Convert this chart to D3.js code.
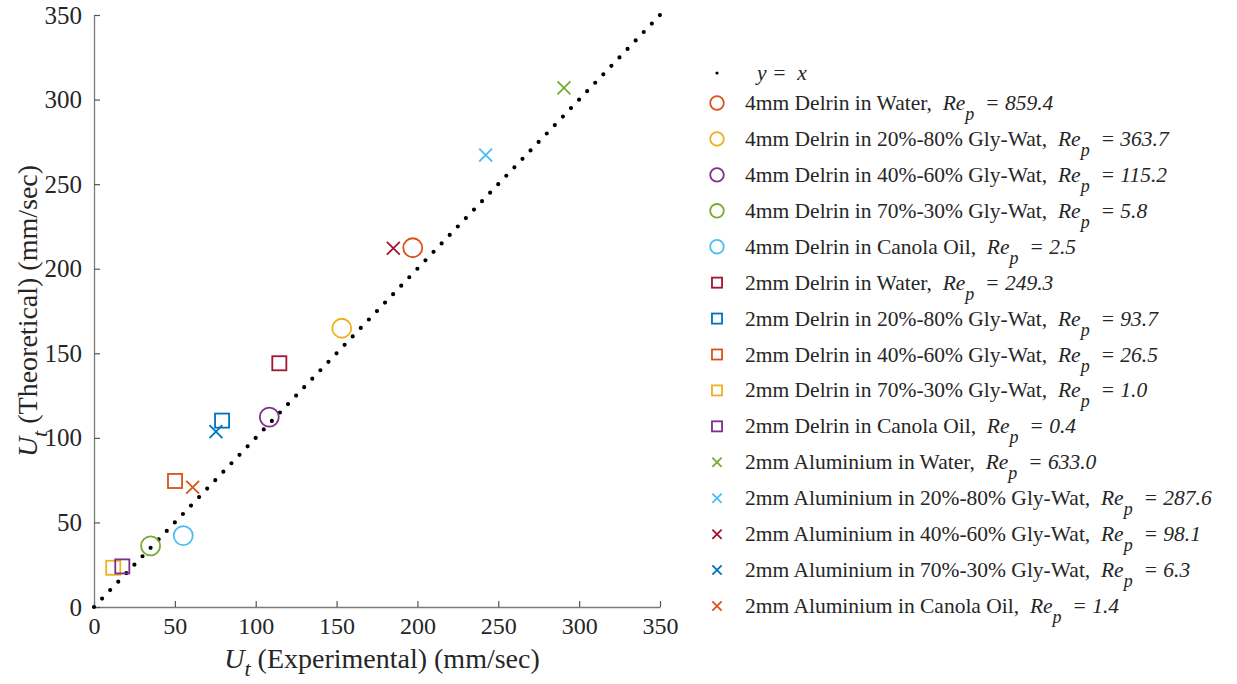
<!DOCTYPE html>
<html>
<head>
<meta charset="utf-8">
<script src="https://cdn.jsdelivr.net/npm/d3@7"></script>
<style>
  body { margin: 0; background: #fff; }
  svg { font-family: "Liberation Serif", "Times New Roman", serif; }
</style>
</head>
<body>
<svg id="chart" width="1237" height="684"></svg>
<script>
// Terminal velocity: theoretical vs experimental

const seriesNames = [
  "4mm Delrin in Water,", "4mm Delrin in 20%-80% Gly-Wat,", "4mm Delrin in 40%-60% Gly-Wat,",
  "4mm Delrin in 70%-30% Gly-Wat,", "4mm Delrin in Canola Oil,",
  "2mm Delrin in Water,", "2mm Delrin in 20%-80% Gly-Wat,", "2mm Delrin in 40%-60% Gly-Wat,",
  "2mm Delrin in 70%-30% Gly-Wat,", "2mm Delrin in Canola Oil,",
  "2mm Aluminium in Water,", "2mm Aluminium in 20%-80% Gly-Wat,", "2mm Aluminium in 40%-60% Gly-Wat,",
  "2mm Aluminium in 70%-30% Gly-Wat,", "2mm Aluminium in Canola Oil,"
];
const reynolds = ["859.4", "363.7", "115.2", "5.8", "2.5",
                  "249.3", "93.7", "26.5", "1.0", "0.4",
                  "633.0", "287.6", "98.1", "6.3", "1.4"];
const markerTypes = ["o", "o", "o", "o", "o", "s", "s", "s", "s", "s", "x", "x", "x", "x", "x"];
const seriesColors = ["#D95319", "#EDB120", "#7E2F8E", "#77AC30", "#4DBEEE",
                      "#A2142F", "#0072BD", "#D95319", "#EDB120", "#7E2F8E",
                      "#77AC30", "#4DBEEE", "#A2142F", "#0072BD", "#D95319"];
const experimental = [197.1, 153.2, 108.4, 35.0, 55.2,
                      114.6, 79.2, 50.1, 11.9, 17.5,
                      290.6, 242.2, 185.1, 75.4, 61.0];
const theoretical = [212.4, 164.8, 112.3, 36.1, 42.2,
                     144.1, 110.2, 74.5, 23.2, 24.0,
                     306.9, 267.2, 212.1, 103.7, 70.8];
const identityLine = [0, 350];
const tickValues = [0, 50, 100, 150, 200, 250, 300, 350];

const svg = d3.select("#chart");

const x = d3.scaleLinear().domain([0, 350]).range([94, 660]);
const y = d3.scaleLinear().domain([0, 350]).range([607, 15]);

// axes (ticks inside, MATLAB style)
const xAxis = svg.append("g")
  .attr("transform", `translate(0,${y(0)})`)
  .call(d3.axisBottom(x).tickValues(tickValues).tickSizeInner(-6).tickSizeOuter(0).tickPadding(9));
const yAxis = svg.append("g")
  .attr("transform", `translate(${x(0)},0)`)
  .call(d3.axisLeft(y).tickValues(tickValues).tickSizeInner(-6).tickSizeOuter(0).tickPadding(12));

[xAxis, yAxis].forEach(a => {
  a.attr("font-family", "Liberation Serif, serif").attr("font-size", 25);
  a.select(".domain").attr("stroke", "#7a7a7a").attr("stroke-width", 1.3);
  a.selectAll(".tick line").attr("stroke", "#555").attr("stroke-width", 1.2);
  a.selectAll(".tick text").attr("fill", "#262626");
});
xAxis.attr("font-size", 24);
xAxis.selectAll(".tick text").attr("dy", "0.75em");

// y = x dotted line
const linePts = identityLine.map(v => [x(v), y(v)]);
const lineLen = Math.hypot(linePts[1][0] - linePts[0][0], linePts[1][1] - linePts[0][1]);
svg.append("path")
  .attr("d", d3.line()(linePts))
  .attr("fill", "none")
  .attr("stroke", "#000")
  .attr("stroke-width", 4.2)
  .attr("stroke-linecap", "round")
  .attr("stroke-dasharray", `0,${lineLen / 70 - 0.002}`);

// marker drawing
function drawMarker(g, type, color, size) {
  if (type === "o") {
    g.append("circle").attr("r", size).attr("fill", "none")
      .attr("stroke", color).attr("stroke-width", 1.8);
  } else if (type === "s") {
    const h = size * 0.74;
    g.append("rect").attr("x", -h).attr("y", -h).attr("width", 2 * h).attr("height", 2 * h)
      .attr("fill", "none").attr("stroke", color).attr("stroke-width", 1.8);
  } else {
    const h = size * 0.68;
    g.append("path").attr("d", `M${-h},${-h}L${h},${h}M${-h},${h}L${h},${-h}`)
      .attr("fill", "none").attr("stroke", color).attr("stroke-width", 1.8);
  }
}

seriesNames.forEach((name, i) => {
  const g = svg.append("g")
    .attr("transform", `translate(${x(experimental[i])},${y(theoretical[i])})`);
  drawMarker(g, markerTypes[i], seriesColors[i], 9.5);
});

// axis labels
const xLab = svg.append("text")
  .attr("x", 382).attr("y", 668)
  .attr("text-anchor", "middle")
  .style("font-size", "28px").attr("fill", "#262626");
xLab.append("tspan").style("font-style", "italic").text("U");
xLab.append("tspan").style("font-style", "italic").attr("dy", 8).style("font-size", "22px").text("t");
xLab.append("tspan").attr("dy", -8).text(" (Experimental) (mm/sec)");

const yLab = svg.append("text")
  .attr("transform", `translate(37,${y(175)}) rotate(-90)`)
  .attr("text-anchor", "middle")
  .style("font-size", "28px").attr("fill", "#262626");
yLab.append("tspan").style("font-style", "italic").text("U");
yLab.append("tspan").style("font-style", "italic").attr("dy", 10).style("font-size", "22px").text("t");
yLab.append("tspan").attr("dy", -10).text(" (Theoretical) (mm/sec)");

// legend
const legendY = d3.scalePoint().domain(seriesNames).range([103, 606]);
const legendMarkX = 717, legendTextX = 745, legendFont = "21.5px";

const lg0 = svg.append("g");
lg0.append("circle").attr("cx", legendMarkX).attr("cy", 73).attr("r", 1.6).attr("fill", "#000");
lg0.append("text").attr("x", 757).attr("y", 80)
  .style("font-size", legendFont).style("font-style", "italic").attr("fill", "#262626")
  .attr("xml:space", "preserve").text("y =  x");

seriesNames.forEach((name, i) => {
  const cy = legendY(name);
  const g = svg.append("g").attr("transform", `translate(${legendMarkX},${cy})`);
  drawMarker(g, markerTypes[i], seriesColors[i], 6.8);
  const t = svg.append("text").attr("x", legendTextX).attr("y", cy + 7)
    .attr("xml:space", "preserve")
    .style("font-size", legendFont).attr("fill", "#262626");
  t.append("tspan").text(name + "  ");
  t.append("tspan").style("font-style", "italic").text("Re");
  t.append("tspan").style("font-style", "italic").attr("dy", 10).style("font-size", "18px").text("p");
  t.append("tspan").style("font-style", "italic").attr("dy", -10).text("  = " + reynolds[i]);
});
</script>
</body>
</html>
